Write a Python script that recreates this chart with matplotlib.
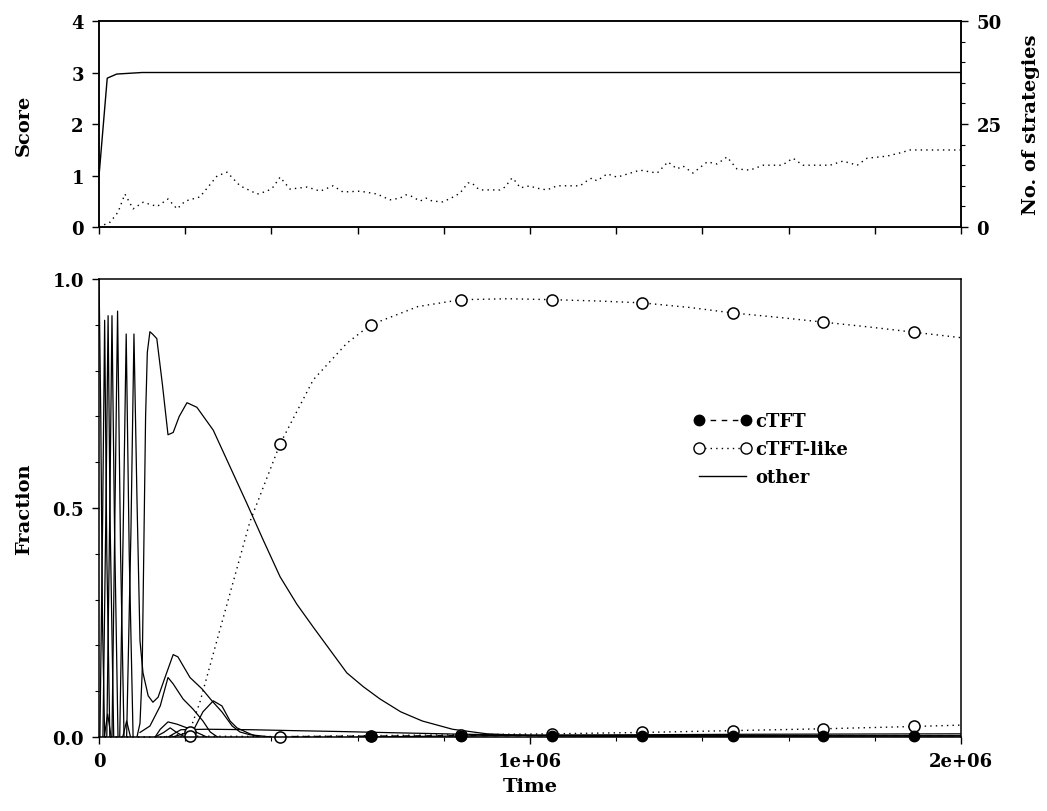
import numpy as np
import matplotlib
matplotlib.use("Agg")
import matplotlib.pyplot as plt
from matplotlib.ticker import MultipleLocator
from matplotlib.lines import Line2D

# ---- data (time in units of 1e6) ----
score_t = [0, 0.019, 0.041, 0.1, 2.0]
score_v = [1.0, 2.89, 2.97, 3.0, 3.0]

nstrat_t = [0, 0.026, 0.044, 0.060, 0.079, 0.102, 0.135, 0.160, 0.181, 0.200,
            0.234, 0.274, 0.297, 0.327, 0.367, 0.390, 0.404, 0.420, 0.443, 0.483,
            0.513, 0.543, 0.566, 0.606, 0.645, 0.675, 0.698, 0.712, 0.724, 0.745,
            0.759, 0.773, 0.798, 0.812, 0.826, 0.838, 0.856, 0.865, 0.877, 0.884,
            0.930, 0.942, 0.958, 0.968, 0.977, 1.000, 1.012, 1.039, 1.063, 1.116,
            1.132, 1.144, 1.155, 1.179, 1.202, 1.255, 1.295, 1.320, 1.341, 1.355,
            1.378, 1.411, 1.434, 1.457, 1.480, 1.510, 1.541, 1.585, 1.610, 1.633,
            1.696, 1.726, 1.759, 1.782, 1.828, 1.859, 1.882, 2.0]
nstrat_v = [0, 1.2, 3.6, 8.0, 4.4, 6.0, 5.0, 6.8, 4.4, 6.3,
            7.3, 12.4, 13.3, 10.0, 8.0, 8.7, 9.7, 12.1, 9.2, 9.7,
            8.7, 10.0, 8.5, 8.7, 8.0, 6.6, 7.0, 7.8, 7.5, 6.3,
            7.0, 6.3, 6.1, 6.8, 7.5, 8.3, 10.7, 10.7, 9.5, 9.0,
            9.0, 9.7, 11.9, 10.9, 9.5, 10.0, 9.5, 9.0, 10.0, 10.0,
            11.2, 11.9, 11.2, 12.9, 12.1, 13.8, 13.1, 15.8, 14.1, 14.8,
            13.1, 15.8, 15.3, 17.0, 14.1, 13.8, 15.0, 15.0, 16.7, 15.0,
            15.0, 16.0, 15.0, 16.7, 17.2, 18.0, 18.7, 18.7]

marker_t = [0.21, 0.42, 0.63, 0.84, 1.05, 1.26, 1.47, 1.68, 1.89]

ctft_t = [0.45, 0.63, 0.84, 1.05, 1.26, 1.47, 1.68, 1.89, 2.0]
ctft_v = [0.001, 0.002, 0.003, 0.003, 0.003, 0.003, 0.003, 0.003, 0.003]

like1_t = [0, 0.15, 0.19, 0.21, 0.234, 0.288, 0.35, 0.42, 0.497, 0.575, 0.63,
           0.74, 0.84, 0.95, 1.05, 1.16, 1.26, 1.37, 1.47, 1.58, 1.68, 1.79, 1.89, 2.0]
like1_v = [0, 0.0, 0.006, 0.012, 0.076, 0.26, 0.47, 0.64, 0.78, 0.86, 0.90,
           0.94, 0.955, 0.957, 0.955, 0.952, 0.948, 0.938, 0.926, 0.916, 0.906, 0.895, 0.884, 0.872]

like2_t = [0.15, 0.21, 0.42, 0.63, 0.84, 1.05, 1.26, 1.47, 1.68, 1.89, 2.0]
like2_v = [0.0, 0.002, 0.001, 0.003, 0.005, 0.007, 0.010, 0.014, 0.018, 0.023, 0.026]

# "other" strategies
other = [
    ([0, 0.004, 0.008, 0.013], [1.0, 0.70, 0.25, 0.0]),
    ([0.002, 0.008, 0.013, 0.018, 0.025], [0.0, 0.45, 0.91, 0.40, 0.0]),
    ([0.009, 0.016, 0.021, 0.026, 0.034], [0.0, 0.50, 0.92, 0.45, 0.0]),
    ([0.018, 0.025, 0.030, 0.036, 0.044], [0.0, 0.50, 0.92, 0.45, 0.0]),
    ([0.030, 0.037, 0.043, 0.050, 0.058], [0.0, 0.50, 0.93, 0.40, 0.0]),
    ([0.048, 0.056, 0.063, 0.070, 0.079], [0.0, 0.45, 0.88, 0.40, 0.0]),
    ([0.012, 0.020, 0.028], [0.0, 0.05, 0.0]),
    ([0.055, 0.064, 0.073], [0.0, 0.035, 0.0]),
    ([0.064, 0.074, 0.081, 0.088, 0.095, 0.102, 0.114, 0.125, 0.137, 0.153, 0.172,
      0.183, 0.211, 0.239, 0.262, 0.285, 0.309, 0.327, 0.35, 0.40],
     [0.0, 0.45, 0.88, 0.52, 0.21, 0.14, 0.09, 0.076, 0.087, 0.13, 0.18,
      0.175, 0.13, 0.105, 0.079, 0.055, 0.024, 0.011, 0.005, 0.0]),
    ([0.088, 0.095, 0.100, 0.104, 0.108, 0.112, 0.118, 0.124, 0.134, 0.147, 0.160,
      0.172, 0.186, 0.204, 0.227, 0.265, 0.304, 0.343, 0.381, 0.42, 0.459, 0.497,
      0.536, 0.575, 0.613, 0.652, 0.70, 0.75, 0.82, 0.90, 1.0, 1.2, 2.0],
     [0.0, 0.03, 0.14, 0.42, 0.70, 0.84, 0.885, 0.88, 0.87, 0.77, 0.66,
      0.665, 0.70, 0.73, 0.72, 0.67, 0.59, 0.51, 0.43, 0.35, 0.29, 0.24,
      0.19, 0.14, 0.11, 0.083, 0.055, 0.035, 0.017, 0.007, 0.003, 0.001, 0.0]),
    ([0.095, 0.118, 0.142, 0.160, 0.172, 0.195, 0.218, 0.241, 0.258, 0.275],
     [0.01, 0.024, 0.068, 0.13, 0.116, 0.083, 0.061, 0.035, 0.011, 0.0]),
    ([0.17, 0.218, 0.241, 0.265, 0.285, 0.304, 0.320, 0.350, 0.37],
     [0.0, 0.013, 0.055, 0.079, 0.068, 0.035, 0.02, 0.007, 0.0]),
    ([0.13, 0.142, 0.160, 0.181, 0.204, 0.227, 0.25], [0.0, 0.017, 0.033, 0.028, 0.02, 0.01, 0.0]),
    ([0.13, 0.15, 0.165, 0.18, 0.20], [0.0, 0.01, 0.02, 0.01, 0.0]),
    ([0.16, 0.19, 0.25, 0.35, 0.45, 0.56, 0.7, 0.85, 1.0, 1.3, 2.0],
     [0.0, 0.016, 0.017, 0.016, 0.014, 0.012, 0.009, 0.006, 0.004, 0.003, 0.003]),
    ([0.6, 1.0, 1.5, 2.0], [0.0, 0.004, 0.006, 0.007]),
]

plt.rcParams["font.family"] = "DejaVu Serif"
plt.rcParams["font.weight"] = "bold"
plt.rcParams["axes.labelweight"] = "bold"
plt.rcParams["axes.linewidth"] = 1.1

M = 1e6
fig = plt.figure(figsize=(10.47, 8.12), dpi=100)

# ---- top panel ----
ax1 = fig.add_axes([0.0946, 0.7192, 0.8233, 0.2537])
ax1.plot(np.array(score_t) * M, score_v, color="black", lw=1.0)
ax1.set_xlim(0, 2 * M)
ax1.set_ylim(0, 4)
ax1.set_yticks([0, 1, 2, 3, 4])
ax1.xaxis.set_major_locator(MultipleLocator(0.2 * M))
ax1.set_xticklabels([])
ax1.tick_params(labelsize=13, length=5, width=1, pad=6)
ax1.set_ylabel("Score", fontsize=14, labelpad=28)

ax2 = ax1.twinx()
ax2.plot(np.array(nstrat_t) * M, nstrat_v, color="black", lw=1.0, ls=(0, (1, 3)))
ax2.set_ylim(0, 50)
ax2.set_yticks([0, 25, 50])
ax2.yaxis.set_minor_locator(MultipleLocator(5))
ax2.tick_params(labelsize=13, length=5, width=1, pad=6)
ax2.tick_params(which="minor", length=3, width=0.8)
ax2.set_ylabel("No. of strategies", fontsize=14, labelpad=15)

# ---- bottom panel ----
ax = fig.add_axes([0.0946, 0.0911, 0.8233, 0.5640])
for tt, vv in other:
    ax.plot(np.array(tt) * M, vv, color="black", lw=0.9)

mk = np.isin(like1_t, marker_t)
ax.plot(np.array(like1_t) * M, like1_v, color="black", lw=1.0, ls=(0, (1, 3)),
        marker="o", markersize=8, markevery=list(mk), mfc="white", mec="black", mew=1.1,
        clip_on=False)
mk = np.isin(like2_t, marker_t)
ax.plot(np.array(like2_t) * M, like2_v, color="black", lw=1.0, ls=(0, (1, 3)),
        marker="o", markersize=8, markevery=list(mk), mfc="white", mec="black", mew=1.1,
        clip_on=False)
mk = np.isin(ctft_t, marker_t)
ax.plot(np.array(ctft_t) * M, ctft_v, color="black", lw=1.0, ls=(0, (4, 4)),
        marker="o", markersize=7.5, markevery=list(mk), mfc="black", mec="black",
        clip_on=False)

ax.set_xlim(0, 2 * M)
ax.set_ylim(0, 1)
ax.set_xticks([0, 1 * M, 2 * M])
ax.set_xticklabels(["0", "1e+06", "2e+06"])
ax.xaxis.set_minor_locator(MultipleLocator(0.2 * M))
ax.set_yticks([0, 0.5, 1.0])
ax.set_yticklabels(["0.0", "0.5", "1.0"])
ax.yaxis.set_minor_locator(MultipleLocator(0.1))
ax.tick_params(labelsize=13, length=5, width=1, pad=6)
ax.tick_params(which="minor", length=3, width=0.8)
ax.set_xlabel("Time", fontsize=14, labelpad=5)
ax.set_ylabel("Fraction", fontsize=14, labelpad=14)

handles = [
    Line2D([], [], color="black", lw=1.0, ls=(0, (4, 4)), marker="o", markersize=7.5, mfc="black"),
    Line2D([], [], color="black", lw=1.0, ls=(0, (1, 3)), marker="o", markersize=8, mfc="white"),
    Line2D([], [], color="black", lw=1.0),
]
leg = ax.legend(handles, ["cTFT", "cTFT-like", "other"], loc="upper left",
                bbox_to_anchor=(0.671, 0.745), frameon=False, numpoints=2,
                handlelength=3.2, handletextpad=0.2, labelspacing=0.55,
                prop={"size": 13, "weight": "bold"})

fig.savefig("out.png", dpi=100)
